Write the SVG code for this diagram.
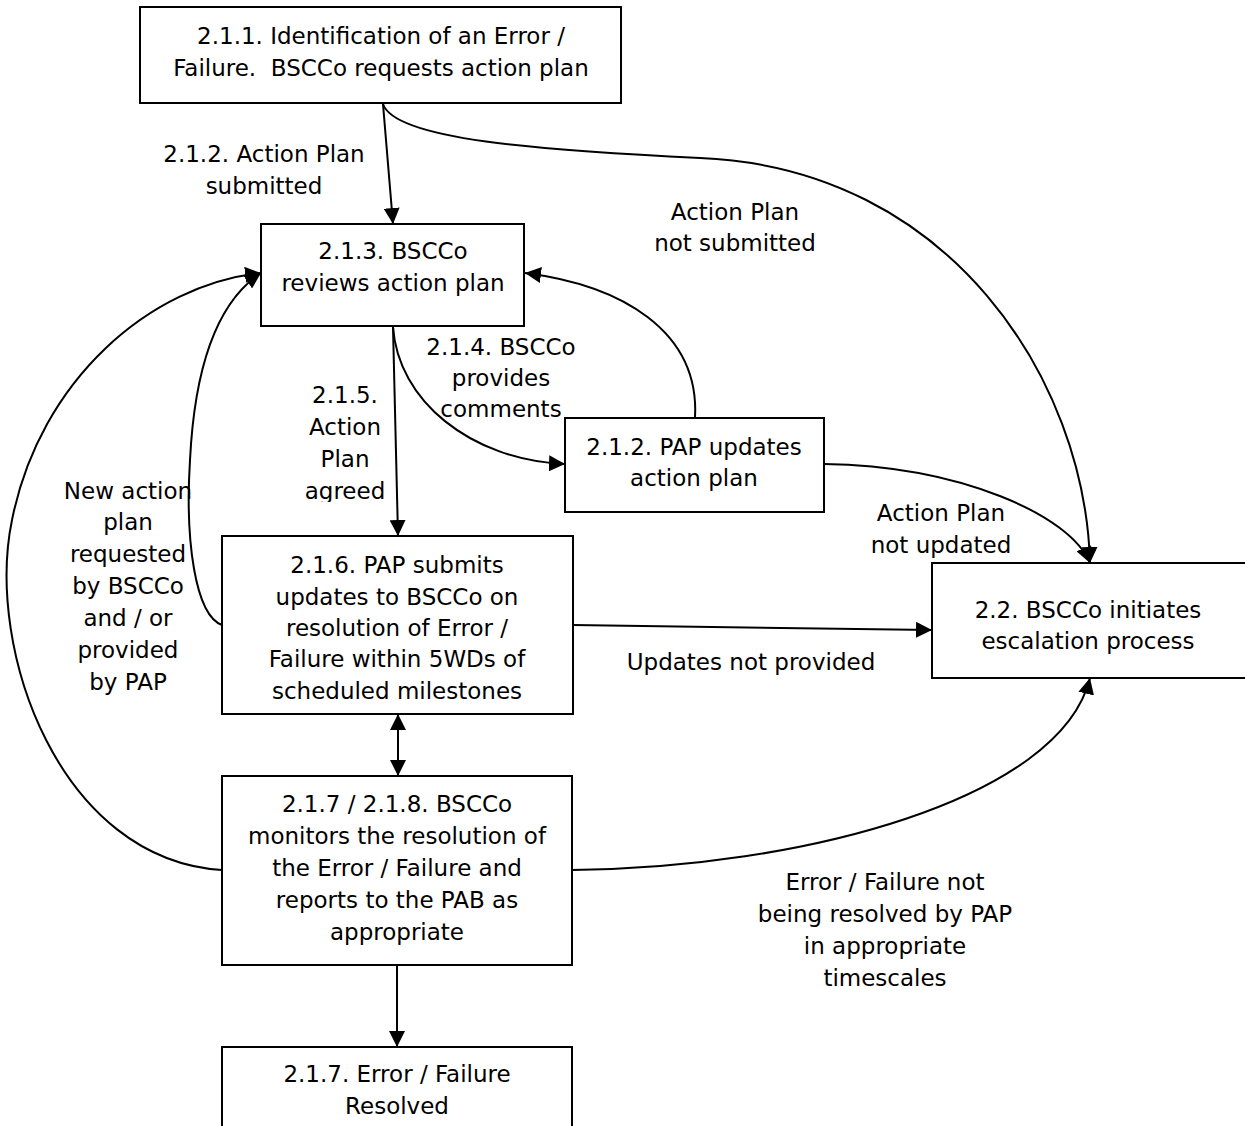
<svg xmlns="http://www.w3.org/2000/svg" width="1245" height="1126" viewBox="0 0 1245 1126">
<style>
.box{fill:#fff;stroke:#000;stroke-width:2}
.t{font-family:"DejaVu Sans","Liberation Sans",sans-serif;font-size:23px;fill:#000;text-anchor:middle}
.c{fill:none;stroke:#000;stroke-width:2}
</style>
<defs>
<marker id="ah" markerUnits="userSpaceOnUse" markerWidth="17" markerHeight="16" refX="16" refY="8" orient="auto-start-reverse">
<path d="M0,0 L16,8 L0,16 z" fill="#000"/>
</marker>
<clipPath id="clipAgreed"><rect x="280" y="370" width="140" height="132"/></clipPath>
</defs>
<rect width="1245" height="1126" fill="#fff"/>
<g id="connectors">
<path class="c" d="M383,104 L393,224" marker-end="url(#ah)"/>
<path class="c" d="M383,104 C 395,140 540,150 700,158 C 950,168 1085,380 1090,563" marker-end="url(#ah)"/>
<path class="c" d="M393,327 C 398,400 470,460 565,464" marker-end="url(#ah)"/>
<path class="c" d="M695,418 C 700,330 620,285 525,273" marker-end="url(#ah)"/>
<path class="c" d="M393,327 L398,536" marker-end="url(#ah)"/>
<path class="c" d="M222,625 C 195,615 185,540 190,460 C 195,360 220,300 261,273" marker-end="url(#ah)"/>
<path class="c" d="M222,870 C 60,860 -15,650 12,520 C 40,380 150,285 261,273" marker-end="url(#ah)"/>
<path class="c" d="M398,714 L398,776" marker-start="url(#ah)" marker-end="url(#ah)"/>
<path class="c" d="M573,625 L932,630" marker-end="url(#ah)"/>
<path class="c" d="M824,464 C 960,466 1070,515 1090,563" marker-end="url(#ah)"/>
<path class="c" d="M572,870 C 800,868 1060,800 1090,678" marker-end="url(#ah)"/>
<path class="c" d="M397,965 L397,1047" marker-end="url(#ah)"/>
</g>
<g id="n211">
<rect class="box" x="140" y="7" width="481" height="96"/>
<text class="t" x="381" y="44">2.1.1. Identification of an Error /</text>
<text class="t" x="381" y="76" xml:space="preserve">Failure.  BSCCo requests action plan</text>
</g>
<g id="n213">
<rect class="box" x="261" y="224" width="263" height="102"/>
<text class="t" x="393" y="259">2.1.3. BSCCo</text>
<text class="t" x="393" y="291">reviews action plan</text>
</g>
<g id="n212pap">
<rect class="box" x="565" y="418" width="259" height="94"/>
<text class="t" x="694" y="455">2.1.2. PAP updates</text>
<text class="t" x="694" y="486">action plan</text>
</g>
<g id="n216">
<rect class="box" x="222" y="536" width="351" height="178"/>
<text class="t" x="397" y="573">2.1.6. PAP submits</text>
<text class="t" x="397" y="605">updates to BSCCo on</text>
<text class="t" x="397" y="636">resolution of Error /</text>
<text class="t" x="397" y="667">Failure within 5WDs of</text>
<text class="t" x="397" y="699">scheduled milestones</text>
</g>
<g id="n22">
<rect class="box" x="932" y="563" width="320" height="115"/>
<text class="t" x="1088" y="618">2.2. BSCCo initiates</text>
<text class="t" x="1088" y="649">escalation process</text>
</g>
<g id="n2178">
<rect class="box" x="222" y="776" width="350" height="189"/>
<text class="t" x="397" y="812">2.1.7 / 2.1.8. BSCCo</text>
<text class="t" x="397" y="844">monitors the resolution of</text>
<text class="t" x="397" y="876">the Error / Failure and</text>
<text class="t" x="397" y="908">reports to the PAB as</text>
<text class="t" x="397" y="940">appropriate</text>
</g>
<g id="n217">
<rect class="box" x="222" y="1047" width="350" height="100"/>
<text class="t" x="397" y="1082">2.1.7. Error / Failure</text>
<text class="t" x="397" y="1114">Resolved</text>
</g>
<g id="labels">
<text class="t" x="264" y="162">2.1.2. Action Plan</text>
<text class="t" x="264" y="194">submitted</text>
<text class="t" x="735" y="220">Action Plan</text>
<text class="t" x="735" y="251">not submitted</text>
<text class="t" x="501" y="355">2.1.4. BSCCo</text>
<text class="t" x="501" y="386">provides</text>
<text class="t" x="501" y="417">comments</text>
<g clip-path="url(#clipAgreed)">
<text class="t" x="345" y="403">2.1.5.</text>
<text class="t" x="345" y="435">Action</text>
<text class="t" x="345" y="467">Plan</text>
<text class="t" x="345" y="499">agreed</text>
</g>
<text class="t" x="941" y="521">Action Plan</text>
<text class="t" x="941" y="553">not updated</text>
<text class="t" x="128" y="499">New action</text>
<text class="t" x="128" y="530">plan</text>
<text class="t" x="128" y="562">requested</text>
<text class="t" x="128" y="594">by BSCCo</text>
<text class="t" x="128" y="626">and / or</text>
<text class="t" x="128" y="658">provided</text>
<text class="t" x="128" y="690">by PAP</text>
<text class="t" x="751" y="670">Updates not provided</text>
<text class="t" x="885" y="890">Error / Failure not</text>
<text class="t" x="885" y="922">being resolved by PAP</text>
<text class="t" x="885" y="954">in appropriate</text>
<text class="t" x="885" y="986">timescales</text>
</g>
</svg>
